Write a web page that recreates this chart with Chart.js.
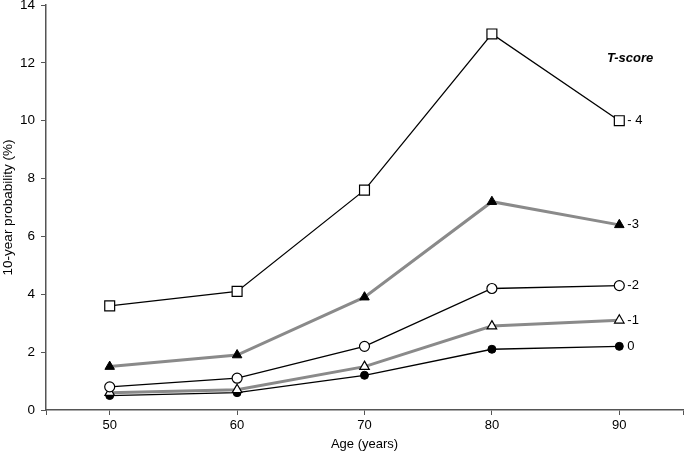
<!DOCTYPE html>
<html>
<head>
<meta charset="utf-8">
<script src="https://cdn.jsdelivr.net/npm/chart.js@4/dist/chart.umd.min.js"></script>
<style>
  html, body { margin: 0; padding: 0; background: #fff; }
  #wrap { width: 685px; height: 452px; }
</style>
</head>
<body>
<div id="wrap"><canvas id="chart" width="685" height="452"></canvas></div>
<script>
const ages = [50, 60, 70, 80, 90];
const tMinus4 = [3.6, 4.1, 7.6, 13.0, 10.0];
const tMinus3 = [1.5, 1.9, 3.9, 7.2, 6.4];
const tMinus2 = [0.8, 1.1, 2.2, 4.2, 4.3];
const tMinus1 = [0.6, 0.7, 1.5, 2.9, 3.1];
const tZero = [0.5, 0.6, 1.2, 2.1, 2.2];
const seriesLabels = ['- 4', '-3', '-2', '-1', '0'];
const xTicks = [45, 50, 60, 70, 80, 90, 95];

const FONT = 'Liberation Sans, Arial, sans-serif';
const GREY = '#8a8a8a';

function pts(vals) {
    return vals.map((v, i) => ({ x: ages[i], y: v }));
}

// labels at the end of each line, plus the "T-score" heading
const endLabels = {
    id: 'endLabels',
    afterDatasetsDraw(chart) {
        const ctx = chart.ctx;
        const xs = chart.scales.x, ys = chart.scales.y;
        ctx.save();
        ctx.fillStyle = '#000';
        ctx.textBaseline = 'middle';
        ctx.textAlign = 'left';
        ctx.font = '13px ' + FONT;
        chart.data.datasets.forEach((ds, i) => {
            const last = ds.data[ds.data.length - 1];
            ctx.fillText(seriesLabels[i], xs.getPixelForValue(last.x) + 8, ys.getPixelForValue(last.y));
        });
        ctx.font = 'italic bold 13px ' + FONT;
        ctx.textAlign = 'center';
        ctx.fillText('T-score', xs.getPixelForValue(90.85), ys.getPixelForValue(12.15));
        ctx.restore();
    }
};

const ctx = document.getElementById('chart').getContext('2d');
new Chart(ctx, {
    type: 'line',
    data: {
        datasets: [
            { data: pts(tMinus4), borderColor: '#000', borderWidth: 1.3, pointStyle: 'rect', pointRadius: 7,
              pointBackgroundColor: '#fff', pointBorderColor: '#000', pointBorderWidth: 1.2 },
            { data: pts(tMinus3), borderColor: GREY, borderWidth: 3, pointStyle: 'triangle', pointRadius: 5.5,
              pointBackgroundColor: '#000', pointBorderColor: '#000', pointBorderWidth: 1 },
            { data: pts(tMinus2), borderColor: '#000', borderWidth: 1.3, pointStyle: 'circle', pointRadius: 5,
              pointBackgroundColor: '#fff', pointBorderColor: '#000', pointBorderWidth: 1.2 },
            { data: pts(tMinus1), borderColor: GREY, borderWidth: 3, pointStyle: 'triangle', pointRadius: 5.5,
              pointBackgroundColor: '#fff', pointBorderColor: '#000', pointBorderWidth: 1.2 },
            { data: pts(tZero), borderColor: '#000', borderWidth: 1.3, pointStyle: 'circle', pointRadius: 4,
              pointBackgroundColor: '#000', pointBorderColor: '#000', pointBorderWidth: 1 }
        ]
    },
    options: {
        responsive: false,
        animation: false,
        layout: { autoPadding: false, padding: { top: 5, right: 2, left: 0, bottom: 0 } },
        plugins: { legend: { display: false }, tooltip: { enabled: false } },
        scales: {
            x: {
                type: 'linear',
                min: 45,
                max: 95,
                afterBuildTicks(scale) {
                    scale.ticks = xTicks.map(v => ({ value: v }));
                },
                afterFit(scale) {
                    scale.height = 42;
                    scale.paddingLeft = 0;
                    scale.paddingRight = 0;
                },
                border: { color: '#555', width: 1.5 },
                grid: { drawOnChartArea: false, drawTicks: true, tickLength: 5, color: '#555' },
                ticks: {
                    color: '#000',
                    font: { family: FONT, size: 13 },
                    padding: 3,
                    autoSkip: false,
                    maxRotation: 0,
                    callback: v => (v === 45 || v === 95) ? '' : v
                },
                title: {
                    display: true,
                    text: 'Age (years)',
                    color: '#000',
                    font: { family: FONT, size: 13 },
                    padding: { top: 0, bottom: 0 }
                }
            },
            y: {
                min: 0,
                max: 14,
                afterFit(scale) {
                    scale.width = 46;
                    scale.paddingTop = 0;
                    scale.paddingBottom = 0;
                },
                border: { color: '#555', width: 1.5 },
                grid: { drawOnChartArea: false, drawTicks: true, tickLength: 5, color: '#555' },
                ticks: {
                    stepSize: 2,
                    color: '#000',
                    font: { family: FONT, size: 13.5 },
                    padding: 6
                },
                title: {
                    display: true,
                    text: '10-year probability (%)',
                    color: '#000',
                    font: { family: FONT, size: 13.5 },
                    padding: { top: 0, bottom: 0 }
                }
            }
        }
    },
    plugins: [endLabels]
});
</script>
</body>
</html>
